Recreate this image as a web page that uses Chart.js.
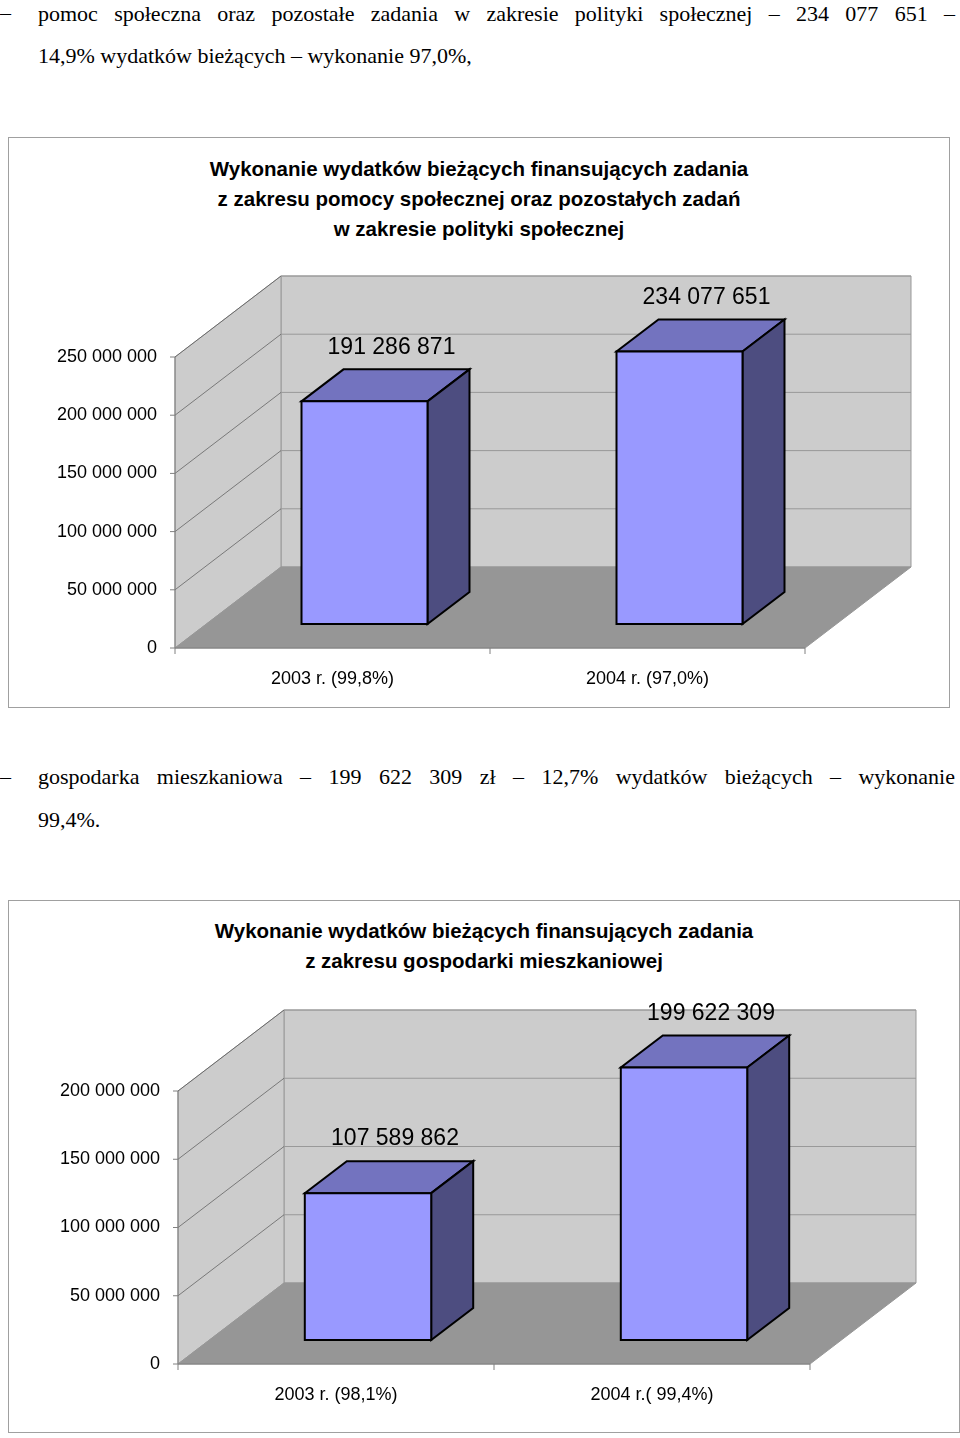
<!DOCTYPE html>
<html><head><meta charset="utf-8">
<script src="https://cdn.jsdelivr.net/npm/chart.js@4/dist/chart.umd.min.js"></script>
<style>
body{margin:0;width:960px;height:1438px;background:#fff;position:relative;font-family:"Liberation Serif",serif;overflow:hidden}
.t{position:absolute;font-size:22px;color:#000;white-space:nowrap}
.j{position:absolute;left:38px;width:917px;font-size:22px;text-align:justify;text-align-last:justify;white-space:nowrap}
.box{position:absolute;border:1px solid #a0a0a0;background:#fff}
.ttl{position:absolute;left:0;right:0;text-align:center;font-family:"Liberation Sans",Arial,sans-serif;font-weight:bold;font-size:20.5px;line-height:30px;color:#000}
canvas{position:absolute}
</style></head><body>
<div class="t" style="left:0;top:0">–</div>
<div class="j" style="top:0;line-height:28px">pomoc społeczna oraz pozostałe zadania w zakresie polityki społecznej – 234 077 651 –</div>
<div class="t" style="left:38px;top:42px;line-height:28px">14,9% wydatków bieżących – wykonanie 97,0%,</div>
<div class="t" style="left:0;top:763px;line-height:28px">–</div>
<div class="j" style="top:763px;line-height:28px">gospodarka mieszkaniowa – 199 622 309 zł – 12,7% wydatków bieżących – wykonanie</div>
<div class="t" style="left:38px;top:806px;line-height:28px">99,4%.</div>

<div class="box" style="left:8px;top:137px;width:940px;height:569px">
 <div class="ttl" style="top:16px">Wykonanie wydatków bieżących finansujących zadania<br>z zakresu pomocy społecznej oraz pozostałych zadań<br>w zakresie polityki społecznej</div>
</div>
<canvas id="c1" style="left:8px;top:250px" width="941" height="450"></canvas>

<div class="box" style="left:8px;top:900px;width:950px;height:531px">
 <div class="ttl" style="top:15px">Wykonanie wydatków bieżących finansujących zadania<br>z zakresu gospodarki mieszkaniowej</div>
</div>
<canvas id="c2" style="left:8px;top:985px" width="951" height="440"></canvas>

<script>
const categories1 = ["2003 r. (99,8%)", "2004 r. (97,0%)"];
const values1 = [191286871, 234077651];
const labels1 = ["191 286 871", "234 077 651"];
const ticks1 = [0, 50000000, 100000000, 150000000, 200000000, 250000000];

const categories2 = ["2003 r. (98,1%)", "2004 r.( 99,4%)"];
const values2 = [107589862, 199622309];
const labels2 = ["107 589 862", "199 622 309"];
const ticks2 = [0, 50000000, 100000000, 150000000, 200000000];

function fmt(v){return String(v).replace(/\B(?=(\d{3})+(?!\d))/g,' ');}

const D = {dx:106, dy:-81};       // wall depth
const BO = {dx:32, dy:-24};       // bar position in depth
const BD = {dx:42, dy:-32};       // bar depth

function poly(ctx, pts, fill, stroke, lw){
  ctx.beginPath(); ctx.moveTo(pts[0][0],pts[0][1]);
  for(let i=1;i<pts.length;i++) ctx.lineTo(pts[i][0],pts[i][1]);
  ctx.closePath();
  if(fill){ctx.fillStyle=fill;ctx.fill();}
  if(stroke){ctx.strokeStyle=stroke;ctx.lineWidth=lw||1;ctx.stroke();}
}

const threeD = {
  id:'threeD',
  beforeDatasetsDraw(chart){
    const ctx=chart.ctx, a=chart.chartArea, y=chart.scales.y, x=chart.scales.x;
    const L=a.left, R=a.right, T=a.top, B=a.bottom;
    ctx.save();
    // back wall
    poly(ctx,[[L+D.dx,T+D.dy],[R+D.dx,T+D.dy],[R+D.dx,B+D.dy],[L+D.dx,B+D.dy]],'#cccccc','#999999');
    // left wall
    poly(ctx,[[L,B],[L+D.dx,B+D.dy],[L+D.dx,T+D.dy],[L,T]],'#cccccc','#999999');
    // gridlines
    y.ticks.forEach(t=>{
      if(t.value===0) return;
      const py=y.getPixelForValue(t.value);
      ctx.beginPath();ctx.strokeStyle='#999999';ctx.lineWidth=1;
      ctx.moveTo(L+D.dx,py+D.dy);ctx.lineTo(R+D.dx,py+D.dy);ctx.stroke();
      ctx.beginPath();ctx.strokeStyle='#555555';ctx.lineWidth=0.7;
      ctx.moveTo(L,py);ctx.lineTo(L+D.dx,py+D.dy);ctx.stroke();
    });
    // floor
    poly(ctx,[[L,B],[R,B],[R+D.dx,B+D.dy],[L+D.dx,B+D.dy]],'#969696','#969696');
    // axes
    ctx.strokeStyle='#808080';ctx.lineWidth=1;
    ctx.beginPath();ctx.moveTo(L,T);ctx.lineTo(L,B);ctx.lineTo(R,B);ctx.stroke();
    y.ticks.forEach(t=>{const py=y.getPixelForValue(t.value);ctx.beginPath();ctx.moveTo(L-5,py);ctx.lineTo(L,py);ctx.stroke();});
    const n=x.ticks.length, w=(R-L)/n;
    for(let i=0;i<=n;i++){ctx.beginPath();ctx.moveTo(L+i*w,B);ctx.lineTo(L+i*w,B+6);ctx.stroke();}
    ctx.restore();
  },
  afterDatasetsDraw(chart){
    const ctx=chart.ctx, meta=chart.getDatasetMeta(0), lbl=chart.options.plugins.threeD.labels;
    ctx.save();
    meta.data.forEach((b,i)=>{
      const l=b.x-b.width/2+BO.dx, r=b.x+b.width/2+BO.dx, t=b.y+BO.dy, bt=b.base+BO.dy;
      poly(ctx,[[l,t],[r,t],[r+BD.dx,t+BD.dy],[l+BD.dx,t+BD.dy]],'#7373bf','#000',2);
      poly(ctx,[[r,t],[r+BD.dx,t+BD.dy],[r+BD.dx,bt+BD.dy],[r,bt]],'#4d4d80','#000',2);
      poly(ctx,[[l,t],[r,t],[r,bt],[l,bt]],'#9999ff','#000',2);
      ctx.fillStyle='#000';ctx.font='23px "Liberation Sans", Arial';ctx.textAlign='center';ctx.textBaseline='middle';
      ctx.fillText(lbl[i], b.x+BO.dx+27, t-54);
    });
    ctx.restore();
  }
};

function make(id, cats, vals, lbls, ticks, yw, padR, padT, xh){
  new Chart(document.getElementById(id),{
    type:'bar',
    data:{labels:cats,datasets:[{data:vals,backgroundColor:'rgba(0,0,0,0)',borderWidth:0,barPercentage:0.4,categoryPercentage:1}]},
    options:{
      responsive:false,animation:false,
      layout:{padding:{left:0,right:padR,top:padT,bottom:0}},
      plugins:{legend:{display:false},tooltip:{enabled:false},threeD:{labels:lbls}},
      scales:{
        x:{grid:{display:false},border:{display:false},
           ticks:{color:'#000',font:{family:'"Liberation Sans", Arial',size:18},padding:12,maxRotation:0},
           afterFit:s=>{s.height=xh;}},
        y:{min:0,max:ticks[ticks.length-1],grid:{display:false},border:{display:false},
           afterBuildTicks:s=>{s.ticks=ticks.map(v=>({value:v}));},
           ticks:{color:'#000',font:{family:'"Liberation Sans", Arial',size:18},padding:10,callback:v=>fmt(v)},
           afterFit:s=>{s.width=yw;}}
      }
    },
    plugins:[threeD]
  });
}
make('c1',categories1,values1,labels1,ticks1,167,144,107,52);
make('c2',categories2,values2,labels2,ticks2,170,149,106,61);
</script>
</body></html>
